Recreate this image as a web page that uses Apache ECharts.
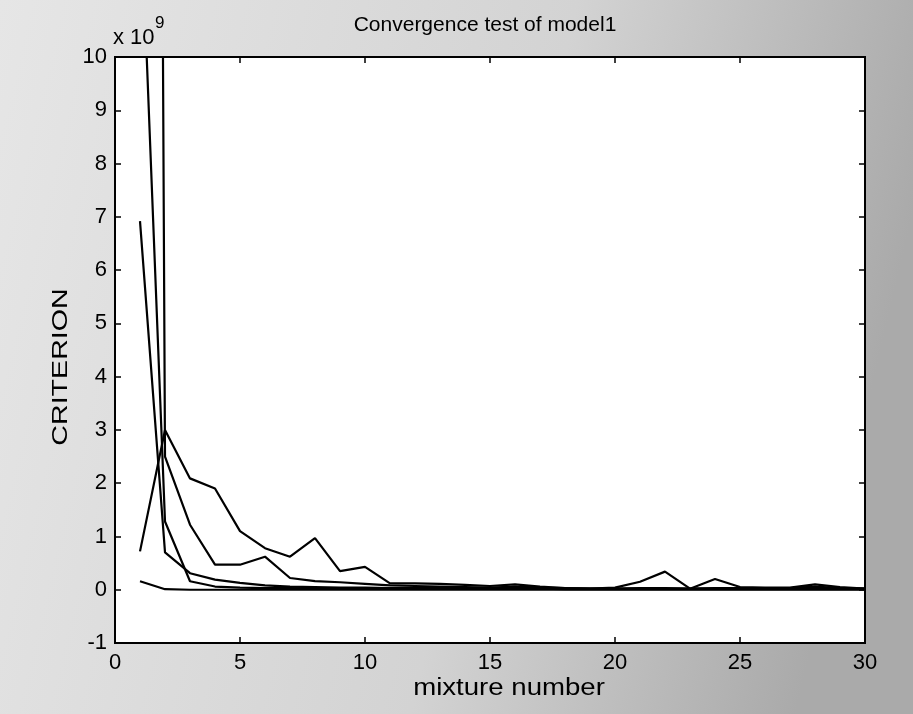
<!DOCTYPE html>
<html>
<head>
<meta charset="utf-8">
<script src="https://cdn.jsdelivr.net/npm/echarts@6/dist/echarts.min.js"></script>
<style>html,body{margin:0;padding:0;}#c{width:913px;height:714px;}</style>
</head>
<body>
<div id="c"></div>
<script>
// values in units of 1e9
const mixture = [1,2,3,4,5,6,7,8,9,10,11,12,13,14,15,16,17,18,19,20,21,22,23,24,25,26,27,28,29,30];
const runA = [0.72,3.0,2.09,1.9,1.1,0.78,0.62,0.97,0.35,0.43,0.12,0.12,0.11,0.09,0.07,0.1,0.06,0.03,0.02,0.04,0.15,0.34,0.02,0.2,0.05,0.04,0.04,0.1,0.05,0.02];
const runB = [95,2.5,1.22,0.47,0.47,0.62,0.22,0.16,0.14,0.11,0.08,0.07,0.06,0.05,0.04,0.06,0.04,0.03,0.02,0.02,0.03,0.03,0.02,0.03,0.03,0.02,0.03,0.06,0.03,0.02];
const runC = [13.2,1.28,0.16,0.06,0.04,0.03,0.03,0.02,0.02,0.02,0.02,0.02,0.02,0.02,0.02,0.02,0.02,0.01,0.01,0.01,0.01,0.01,0.01,0.01,0.01,0.01,0.01,0.01,0.01,0.01];
const runD = [6.92,0.7,0.31,0.19,0.13,0.08,0.06,0.05,0.04,0.04,0.03,0.03,0.03,0.03,0.03,0.04,0.03,0.02,0.02,0.02,0.02,0.02,0.02,0.02,0.02,0.02,0.02,0.02,0.02,0.02];
const runE = [0.16,0.01,0.0,0.0,0.0,0.0,0.0,0.0,0.0,0.0,0.0,0.0,0.0,0.0,0.0,0.0,0.0,0.0,0.0,0.0,0.0,0.0,0.0,0.0,0.0,0.0,0.0,0.0,0.0,0.0];
const runs = [runA, runB, runC, runD, runE];
const xTicks = [0,5,10,15,20,25,30];
const yTicks = [-1,0,1,2,3,4,5,6,7,8,9,10];

const FONT = 'Liberation Sans, Arial, sans-serif';
const chart = echarts.init(document.getElementById('c'), null, {renderer:'canvas'});
function axisCommon() {
  return {
    axisLine:{show:true, onZero:false, lineStyle:{color:'#000', width:2}},
    splitLine:{show:false},
    axisTick:{show:true, inside:true, length:6, lineStyle:{color:'#000', width:1.5}}
  };
}
chart.setOption({
  animation:false,
  backgroundColor:{type:'linear', x:0, y:0, x2:1, y2:0.3, colorStops:[
    {offset:0, color:'#e6e6e6'},{offset:0.6, color:'#d3d3d3'},{offset:1, color:'#aaaaaa'}]},
  title:{text:'Convergence test of model1', left:480, top:10, textAlign:'center',
    textStyle:{fontFamily:FONT, fontSize:21, fontWeight:'normal', color:'#000'}},
  grid:{left:115, right:48, top:57, bottom:71, show:true, backgroundColor:'#fff', borderColor:'#000', borderWidth:2},
  xAxis:[
    Object.assign({type:'value', min:xTicks[0], max:xTicks[xTicks.length-1], interval:5,
      axisLabel:{fontFamily:FONT, fontSize:22, color:'#000', margin:9}}, axisCommon()),
    Object.assign({type:'value', position:'top', min:xTicks[0], max:xTicks[xTicks.length-1], interval:5, axisLabel:{show:false}}, axisCommon())
  ],
  yAxis:[
    Object.assign({type:'value', min:yTicks[0], max:yTicks[yTicks.length-1], interval:1,
      axisLabel:{fontFamily:FONT, fontSize:22, color:'#000', margin:8}}, axisCommon()),
    Object.assign({type:'value', position:'right', min:yTicks[0], max:yTicks[yTicks.length-1], interval:1, axisLabel:{show:false}}, axisCommon())
  ],
  graphic:[
    {type:'text', x:113, y:49, style:{text:'x 10', font:'22px ' + FONT, fill:'#000', align:'left', verticalAlign:'bottom'}},
    {type:'text', x:155, y:32, style:{text:'9', font:'17px ' + FONT, fill:'#000', align:'left', verticalAlign:'bottom'}},
    {type:'text', x:61, y:367, rotation:Math.PI/2, scaleX:1.3,
      style:{text:'CRITERION', font:'22px ' + FONT, fill:'#000', align:'center', verticalAlign:'middle'}},
    {type:'text', x:509, y:689, scaleX:1.2,
      style:{text:'mixture number', font:'23px ' + FONT, fill:'#000', align:'center', verticalAlign:'middle'}}
  ],
  series: runs.map(r => ({
    type:'line', xAxisIndex:0, yAxisIndex:0, showSymbol:false, clip:true,
    lineStyle:{color:'#000', width:2.2},
    data: mixture.map((x,i) => [x, r[i]])
  }))
});
</script>
</body>
</html>
